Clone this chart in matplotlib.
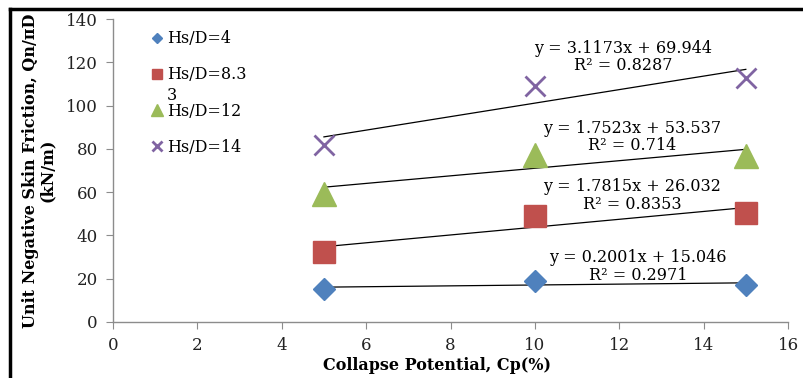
import numpy as np
import matplotlib
matplotlib.use("Agg")
import matplotlib.pyplot as plt
from matplotlib.lines import Line2D

plt.rcParams['font.family'] = ['DejaVu Serif', 'Liberation Serif']

cp = [5, 10, 15]
hs4 = [15.2, 18.9, 17.2]
hs833 = [32.2, 49.0, 50.3]
hs12 = [59.3, 77.0, 76.8]
hs14 = [81.6, 109.0, 112.8]

labels = ["Hs/D=4", "Hs/D=8.3", "Hs/D=12", "Hs/D=14"]
label_wrap = "3"
colors = ["#4F81BD", "#C0504D", "#9BBB59", "#8064A2"]
markers = ["D", "s", "^", "x"]
msizes = [11, 15.5, 17, 15]
eq_texts = ["y = 0.2001x + 15.046\nR² = 0.2971",
            "y = 1.7815x + 26.032\nR² = 0.8353",
            "y = 1.7523x + 53.537\nR² = 0.714",
            "y = 3.1173x + 69.944\nR² = 0.8287"]
eq_pos = [(12.45, 25.5), (12.3, 58.5), (12.3, 85.5), (12.1, 122.5)]

fig = plt.figure(figsize=(8.04, 3.78), dpi=100)
ax = fig.add_axes([113/804, (378-322)/378, (788-113)/804, (322-19)/378])

series = [hs4, hs833, hs12, hs14]
x = np.array(cp, dtype=float)
for ys, lab, c, m, ms in zip(series, labels, colors, markers, msizes):
    if m == "x":
        ax.plot(x, ys, linestyle="none", marker=m, ms=ms, mew=2, color=c, label=lab)
    else:
        ax.plot(x, ys, linestyle="none", marker=m, ms=ms, color=c, mec=c, label=lab)
    k, b = np.polyfit(x, ys, 1)
    xx = np.array([x.min(), x.max()])
    ax.plot(xx, k*xx + b, color="black", lw=0.9, zorder=1)

for t, (px, py) in zip(eq_texts, eq_pos):
    ax.text(px, py, t, ha="center", va="center", fontsize=11.5, linespacing=1.05)

ax.set_xlim(0, 16)
ax.set_ylim(0, 140)
ax.set_xticks(np.arange(0, 17, 2))
ax.set_yticks(np.arange(0, 141, 20))
for s in ["top", "right"]:
    ax.spines[s].set_visible(False)
for s in ["left", "bottom"]:
    ax.spines[s].set_color("#8c8c8c")
    ax.spines[s].set_linewidth(1.0)
ax.tick_params(axis="both", colors="#8c8c8c", labelcolor="#222222", labelsize=12, length=5, direction="out")
ax.tick_params(axis="y", pad=6)
ax.tick_params(axis="x", pad=6)

ax.set_xlabel("Collapse Potential, Cp(%)", fontsize=11.5, fontweight="bold")
ax.xaxis.set_label_coords(0.48, -0.115)
ax.set_ylabel("Unit Negative Skin Friction, Qn/πD\n(kN/m)", fontsize=11.5, fontweight="bold", linespacing=1.0)
ax.yaxis.set_label_coords(-0.085, 0.5)

leg = ax.legend(loc="upper left", bbox_to_anchor=(0.040, 1.0), frameon=False, fontsize=11.5,
                markerscale=0.5, handlelength=0.7, handletextpad=0.3, labelspacing=1.2,
                borderaxespad=0.3)
ann = ax.annotate(label_wrap, xy=(0, 0), xycoords=leg.get_texts()[1], xytext=(0, -2.5),
                  textcoords="offset points", ha="left", va="top", fontsize=11.5,
                  annotation_clip=False)
ann.set_zorder(10)

# figure border (top and left black lines)
fig.add_artist(Line2D([10/804, 1.0], [1-8.5/378, 1-8.5/378], transform=fig.transFigure, color="black", lw=2.5))
fig.add_artist(Line2D([10/804, 10/804], [0.0, 1-8.5/378], transform=fig.transFigure, color="black", lw=2.5))

fig.savefig("out.png", dpi=100)
